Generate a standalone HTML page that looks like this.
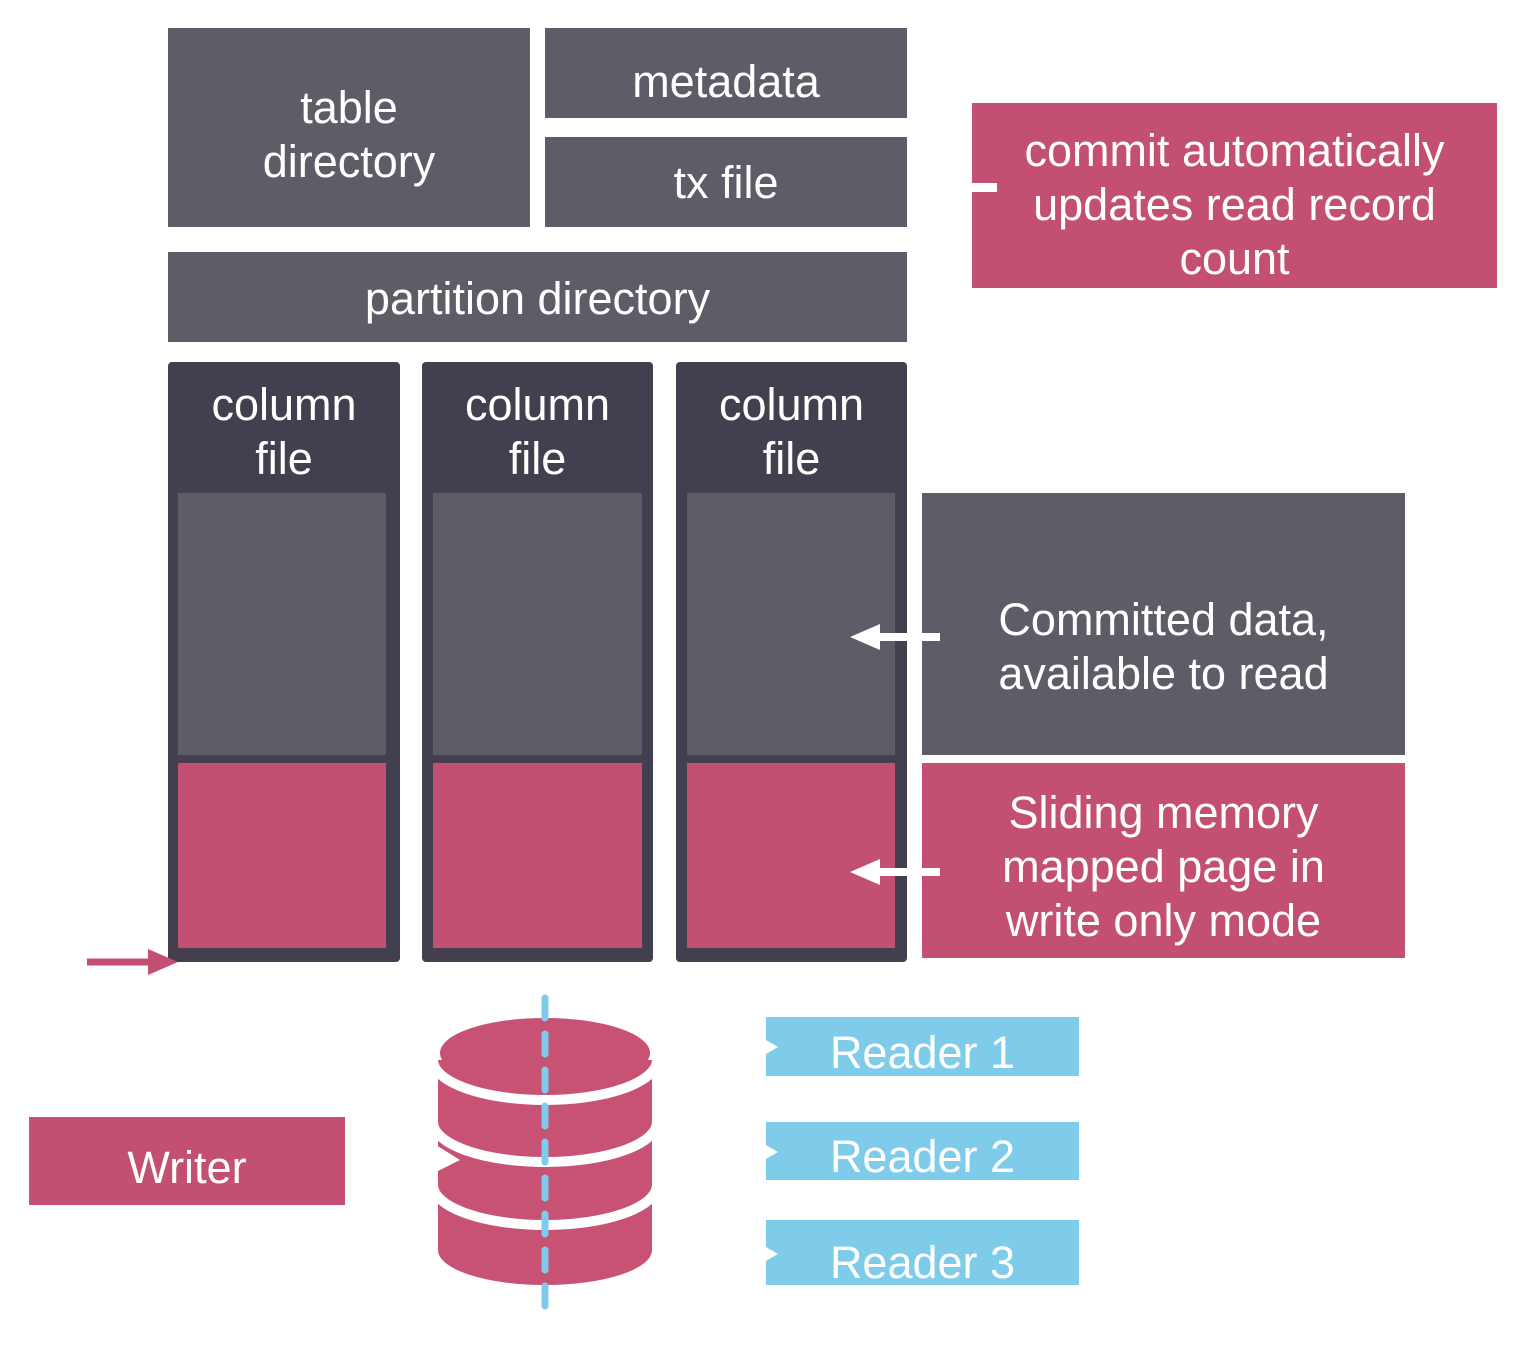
<!DOCTYPE html>
<html><head><meta charset="utf-8"><style>
body{margin:0;width:1526px;height:1346px;background:#fff;position:relative;overflow:hidden;font-family:"Liberation Sans",sans-serif;}
.b{position:absolute;display:flex;align-items:center;justify-content:center;text-align:center;color:#fff;font-size:45px;line-height:54px;box-sizing:border-box;}
.g{background:#5e5c66}.d{background:#433f4e}.p{background:#c35072}.bl{background:#7ecbea}
</style></head><body>
<div class="b g" style="left:168px;top:28px;width:362px;height:199px;padding-top:14px">table<br>directory</div>
<div class="b g" style="left:545px;top:28px;width:362px;height:90px;padding-top:18px">metadata</div>
<div class="b g" style="left:545px;top:137px;width:362px;height:90px;padding-top:2px">tx file</div>
<div class="b g" style="left:168px;top:252px;width:739px;height:90px;padding-top:4px">partition directory</div>
<div class="b p" style="left:972px;top:103px;width:525px;height:185px;padding-top:18px">commit automatically<br>updates read record<br>count</div>
<div style="position:absolute;left:972px;top:183px;width:25px;height:9px;background:#fff"></div>

<div class="b d" style="left:168px;top:362px;width:232px;height:600px;align-items:flex-start;padding-top:16px;border-radius:4px">column<br>file</div>
<div class="b d" style="left:422px;top:362px;width:231px;height:600px;align-items:flex-start;padding-top:16px;border-radius:4px">column<br>file</div>
<div class="b d" style="left:676px;top:362px;width:231px;height:600px;align-items:flex-start;padding-top:16px;border-radius:4px">column<br>file</div>
<div class="b g" style="left:178px;top:493px;width:208px;height:262px"></div>
<div class="b g" style="left:433px;top:493px;width:209px;height:262px"></div>
<div class="b g" style="left:687px;top:493px;width:208px;height:262px"></div>
<div class="b p" style="left:178px;top:763px;width:208px;height:185px"></div>
<div class="b p" style="left:433px;top:763px;width:209px;height:185px"></div>
<div class="b p" style="left:687px;top:763px;width:208px;height:185px"></div>

<div class="b g" style="left:922px;top:493px;width:483px;height:262px;padding-top:46px">Committed data,<br>available to read</div>
<div class="b p" style="left:922px;top:763px;width:483px;height:195px;padding-top:12px">Sliding memory<br>mapped page in<br>write only mode</div>

<div class="b p" style="left:29px;top:1117px;width:316px;height:88px;padding-top:14px">Writer</div>
<div class="b bl" style="left:766px;top:1017px;width:313px;height:59px;padding-top:12px">Reader 1</div>
<div class="b bl" style="left:766px;top:1122px;width:313px;height:58px;padding-top:12px">Reader 2</div>
<div class="b bl" style="left:766px;top:1220px;width:313px;height:65px;padding-top:20px">Reader 3</div>

<svg width="1526" height="1346" style="position:absolute;left:0;top:0">
<g fill="#fff">
<polygon points="940,633 880,633 880,624 850,637 880,650 880,641 940,641"/>
<polygon points="940,868 880,868 880,859 850,872 880,885 880,876 940,876"/>
<polygon points="766,1040 778,1047 766,1054"/>
<polygon points="766,1145 778,1152 766,1159"/>
<polygon points="766,1247 778,1254 766,1261"/>
</g>
<line x1="87" y1="962" x2="152" y2="962" stroke="#c35072" stroke-width="7"/>
<polygon points="148,949 178,962 148,975" fill="#c35072"/>
<g fill="#c85274">
<rect x="438" y="1060" width="214" height="190"/>
<ellipse cx="545" cy="1250" rx="107" ry="35"/>
</g>
<g fill="none" stroke="#fff" stroke-width="10">
<path d="M433 1060 A112 40 0 0 0 657 1060"/>
<path d="M433 1122 A112 40 0 0 0 657 1122"/>
<path d="M433 1185 A112 40 0 0 0 657 1185"/>
</g>
<ellipse cx="545" cy="1053" rx="105" ry="35" fill="#c85274"/>
<polygon points="436,1145 460,1160 436,1172" fill="#fff"/>
<line x1="545" y1="998" x2="545" y2="1310" stroke="#7ecbea" stroke-width="7" stroke-dasharray="20 16" stroke-linecap="round"/>
</svg>
</body></html>
